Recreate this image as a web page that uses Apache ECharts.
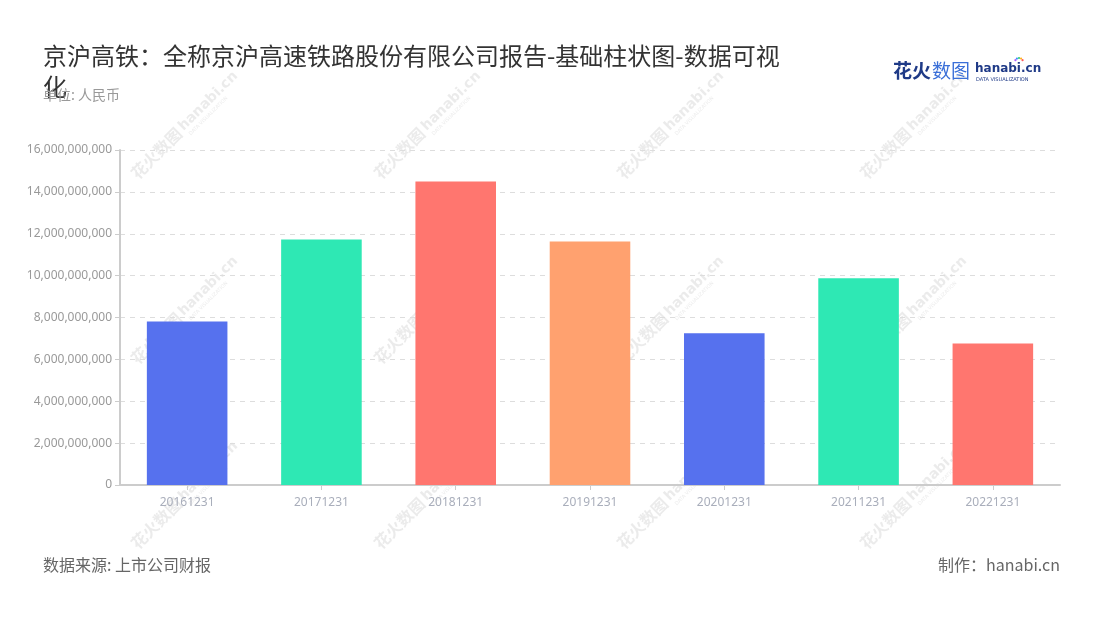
<!DOCTYPE html>
<html>
<head>
<meta charset="utf-8">
<script src="https://cdn.jsdelivr.net/npm/echarts@6/dist/echarts.min.js"></script>
<style>
html,body{margin:0;padding:0;background:#fff;}
#main{width:1100px;height:620px;}
</style>
</head>
<body>
<div id="main"></div>
<script>
var categories = ['20161231','20171231','20181231','20191231','20201231','20211231','20221231'];
var values = [7810000000, 11730000000, 14490000000, 11630000000, 7250000000, 9870000000, 6760000000];
var barColors = ['#5671EE','#2EE8B4','#FF766F','#FFA16F','#5671EE','#2EE8B4','#FF766F'];
var yTicks = {min: 0, max: 16000000000, interval: 2000000000};

var CJK = '"Noto Sans CJK SC","Noto Sans",sans-serif';

function watermark(cx, cy) {
  var c = 'rgba(190,190,190,0.3)';
  return {
    type: 'group',
    x: cx, y: cy,
    rotation: Math.PI / 4,
    silent: true,
    z: 100,
    children: [
      {type: 'text', x: -73, y: -9, style: {text: '花火数图', font: 'bold 16px ' + CJK, fill: c}},
      {type: 'text', x: -6, y: -8, style: {text: 'hanabi.cn', font: 'bold 14px "DejaVu Sans",sans-serif', fill: c}},
      {type: 'text', x: -4, y: 7, style: {text: 'DATA VISUALIZATION', font: '5px "DejaVu Sans",sans-serif', fill: c}}
    ]
  };
}

var graphics = [];
var wmCols = [186, 429, 672, 915];
var wmRows = [125, 310, 495];
wmRows.forEach(function (ry) { wmCols.forEach(function (cx) { graphics.push(watermark(cx, ry)); }); });

// logo
graphics.push({type: 'text', left: 893, top: 61, z: 50, style: {text: '花火', font: 'bold 19px ' + CJK, fill: '#1F3A87'}});
graphics.push({type: 'text', left: 932, top: 61, z: 50, style: {text: '数图', font: '19px ' + CJK, fill: '#3A6FD8'}});
graphics.push({type: 'text', left: 975, top: 63, z: 50, style: {text: 'hanabi.cn', font: 'bold 12px "DejaVu Sans",sans-serif', fill: '#1F3A87'}});
graphics.push({type: 'text', left: 976, top: 77, z: 50, style: {text: 'DATA VISUALIZATION', font: '5px "DejaVu Sans",sans-serif', fill: '#1F3A87'}});
var dotCols = ['#FF5A5A','#FFB020','#2ECC71','#3A8FFF','#B05AFF'];
dotCols.forEach(function (col, i) {
  var a = Math.PI * (0.15 + i * 0.175);
  graphics.push({type: 'circle', z: 50, shape: {cx: 1019 + Math.cos(a) * 4, cy: 62 - Math.sin(a) * 4, r: 1.1}, style: {fill: col}});
});

// footer
graphics.push({type: 'text', left: 43, top: 557, style: {text: '数据来源: 上市公司财报', font: '16px ' + CJK, fill: '#666'}});
graphics.push({type: 'text', right: 40, top: 557, style: {text: '制作：hanabi.cn', font: '16px ' + CJK, fill: '#666'}});

var chart = echarts.init(document.getElementById('main'));
chart.setOption({
  backgroundColor: '#fff',
  animation: false,
  title: [
    {
      text: '京沪高铁：全称京沪高速铁路股份有限公司报告-基础柱状图-数据可视化',
      left: 43, top: 40, padding: 0,
      textStyle: {fontFamily: CJK, fontSize: 24, fontWeight: 'normal', color: '#333', width: 745, overflow: 'break', lineHeight: 31}
    },
    {
      text: '单位: 人民币',
      left: 43, top: 88, padding: 0,
      textStyle: {fontFamily: CJK, fontSize: 14, fontWeight: 'normal', color: '#999'}
    }
  ],
  grid: {left: 120, right: 40, top: 150, bottom: 135, containLabel: false},
  xAxis: {
    type: 'category',
    data: categories,
    axisLine: {lineStyle: {color: '#ccc', width: 2}},
    axisTick: {show: true, alignWithLabel: true, lineStyle: {color: '#ccc'}},
    axisLabel: {color: '#A9AEBB', fontSize: 12, margin: 12, fontFamily: '"Noto Sans",sans-serif'}
  },
  yAxis: {
    type: 'value',
    min: yTicks.min, max: yTicks.max, interval: yTicks.interval,
    axisLine: {show: true, lineStyle: {color: '#ccc', width: 2}},
    axisTick: {show: true, lineStyle: {color: '#ccc'}},
    axisLabel: {color: '#999', fontSize: 12, margin: 8, fontFamily: '"Noto Sans",sans-serif',
      formatter: function (v) { return v.toLocaleString('en-US'); }},
    splitLine: {show: true, lineStyle: {color: '#ddd', type: [5, 5]}}
  },
  series: [{
    type: 'bar',
    barWidth: '60%',
    data: values.map(function (v, i) { return {value: v, itemStyle: {color: barColors[i]}}; })
  }],
  graphic: graphics
});
</script>
</body>
</html>
